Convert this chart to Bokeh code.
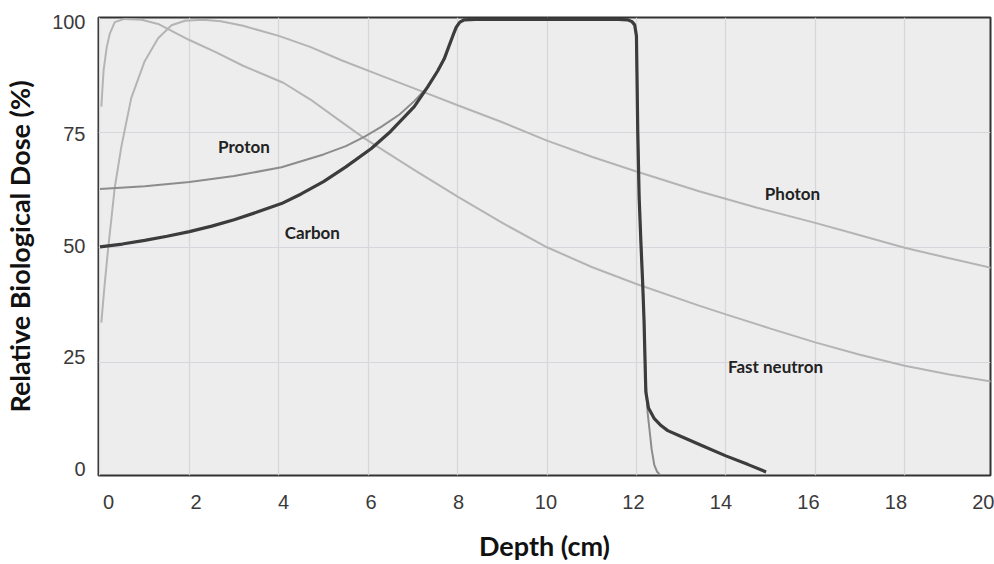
from bokeh.plotting import figure
from bokeh.models import Range1d, LinearAxis, FixedTicker, Grid, Label
from bokeh.embed import file_html
from bokeh.resources import INLINE

# ---- data ----
x_ticks = [0, 2, 4, 6, 8, 10, 12, 14, 16, 18, 20]
y_ticks = [0, 25, 50, 75, 100]

photon_x = [0.03, 0.1, 0.18, 0.33, 0.48, 0.7, 1.0, 1.3, 1.6, 1.9, 2.3, 2.7, 3.2, 4.0, 4.7,
            5.4, 6.3, 7.1, 8.0, 9.0, 10.0, 11.0, 12.0, 13.4, 14.7, 16.0, 17.0, 18.0, 19.0, 20.0]
photon_y = [33.6, 41.5, 49.5, 63.0, 72.0, 82.5, 90.5, 95.5, 98.3, 99.3, 99.5, 99.2, 98.2, 96.0, 93.6,
            90.7, 87.3, 84.3, 80.9, 77.2, 73.2, 69.7, 66.5, 62.2, 58.6, 55.3, 52.6, 49.9, 47.6, 45.4]

neutron_x = [0.03, 0.08, 0.15, 0.22, 0.33, 0.55, 0.93, 1.3, 2.0, 2.6, 3.2, 4.1, 4.7, 5.3, 5.9,
             7.0, 8.0, 9.0, 10.0, 11.0, 12.0, 13.4, 14.0, 15.0, 16.0, 17.0, 18.0, 19.0, 20.0]
neutron_y = [80.6, 88.5, 93.5, 96.5, 99.0, 99.7, 99.5, 98.6, 95.1, 92.4, 89.5, 85.8, 82.2, 78.0, 73.8,
             67.0, 61.0, 55.3, 50.0, 45.7, 42.0, 37.3, 35.4, 32.3, 29.3, 26.6, 24.2, 22.3, 20.7]

proton_x = [0.0, 1.0, 2.0, 3.0, 4.06, 5.0, 5.5, 5.92, 6.29, 6.7, 7.03, 7.33, 7.55, 7.7, 7.8,
            7.9, 7.97, 8.05, 8.15, 8.4, 10.0, 11.6, 11.8, 11.9, 11.96, 12.0, 12.03, 12.06, 12.1,
            12.14, 12.17, 12.2, 12.25, 12.29, 12.34, 12.4, 12.46, 12.52]
proton_y = [62.7, 63.3, 64.2, 65.5, 67.4, 70.2, 72.0, 74.1, 76.2, 78.9, 81.8, 84.9, 88.3, 91.0, 93.6,
            96.2, 97.9, 99.0, 99.5, 99.6, 99.6, 99.6, 99.5, 99.1, 98.4, 96.0, 75.0, 61.0, 51.0,
            42.0, 34.0, 22.0, 14.0, 10.5, 6.0, 2.6, 1.2, 0.5]

carbon_x = [0.0, 0.5, 1.0, 1.5, 2.0, 2.5, 3.0, 3.5, 4.06, 4.5, 5.0, 5.5, 6.07, 6.5, 7.03,
            7.33, 7.55, 7.7, 7.8, 7.9, 7.97, 8.05, 8.15, 8.4, 10.0, 11.6, 11.8, 11.9, 11.96,
            12.0, 12.03, 12.06, 12.1, 12.14, 12.17, 12.21, 12.27, 12.4, 12.55, 12.7, 13.0,
            13.5, 14.0, 14.5, 14.9]
carbon_y = [50.1, 50.7, 51.5, 52.4, 53.4, 54.6, 56.0, 57.6, 59.5, 61.6, 64.3, 67.5, 71.5, 75.2, 80.6,
            84.9, 88.3, 91.0, 93.6, 96.2, 97.9, 99.0, 99.5, 99.6, 99.6, 99.6, 99.5, 99.1, 98.4,
            96.0, 75.0, 61.0, 51.0, 42.0, 34.0, 18.5, 15.0, 12.7, 11.2, 10.1, 8.8,
            6.7, 4.6, 2.7, 1.1]

labels_text = ["Proton", "Carbon", "Photon", "Fast neutron"]
labels_x = [3.22, 4.75, 15.49, 15.11]
labels_y = [72.0, 53.3, 61.7, 24.05]

# ---- figure ----
p = figure(width=994, height=564, output_backend="svg", toolbar_location=None,
           x_range=Range1d(-0.0335, 19.92), y_range=Range1d(0.33, 100.0),
           x_axis_location=None, y_axis_location=None,
           min_border_left=97, min_border_right=4, min_border_top=17, min_border_bottom=87,
           background_fill_color="#ededed", border_fill_color="white")
p.outline_line_color = "#333333"
p.outline_line_width = 2

for g in p.grid:
    g.visible = False

p.add_layout(Grid(dimension=0, ticker=FixedTicker(ticks=x_ticks),
                  grid_line_color="#d6d7dc", grid_line_width=1.2))
p.add_layout(Grid(dimension=1, ticker=FixedTicker(ticks=y_ticks),
                  grid_line_color="#d6d7dc", grid_line_width=1.2))

# label axes (tick labels sit slightly off the grid in the reference)
p.extra_x_ranges = {"lbl": Range1d(-0.228, 20.16)}
p.extra_y_ranges = {"lbl": Range1d(-1.56, 101.12)}

tick_font = "Liberation Sans Narrow, Liberation Sans, sans-serif"

xax = LinearAxis(x_range_name="lbl", ticker=FixedTicker(ticks=x_ticks), axis_label="Depth (cm)")
yax = LinearAxis(y_range_name="lbl", ticker=FixedTicker(ticks=y_ticks),
                 axis_label="Relative Biological Dose (%)")
for ax in (xax, yax):
    ax.axis_line_color = None
    ax.major_tick_line_color = None
    ax.minor_tick_line_color = None
    ax.major_tick_out = 0
    ax.major_tick_in = 0
    ax.major_label_text_font = tick_font
    ax.major_label_text_font_size = "20px"
    ax.major_label_text_color = "#3a3a3a"
    ax.axis_label_text_font = "Lato"
    ax.axis_label_text_font_style = "bold"
    ax.axis_label_text_font_size = "27px"
    ax.axis_label_text_color = "#111111"
xax.major_label_standoff = 19
xax.axis_label_standoff = 17
yax.major_label_standoff = 13
yax.axis_label_standoff = 13
p.add_layout(xax, "below")
p.add_layout(yax, "left")

# ---- curves ----
p.line(photon_x, photon_y, line_color="#b4b4b4", line_width=2)
p.line(neutron_x, neutron_y, line_color="#b4b4b4", line_width=2)
p.line(proton_x, proton_y, line_color="#8c8c8c", line_width=2)
p.line(carbon_x, carbon_y, line_color="#3c3c3c", line_width=3.2)

for t, lx, ly in zip(labels_text, labels_x, labels_y):
    p.add_layout(Label(x=lx, y=ly, text=t, text_align="center", text_baseline="middle",
                       text_font="Lato", text_font_style="bold", text_font_size="17px",
                       text_color="#222222"))

open("out.html", "w").write(file_html(p, INLINE))
